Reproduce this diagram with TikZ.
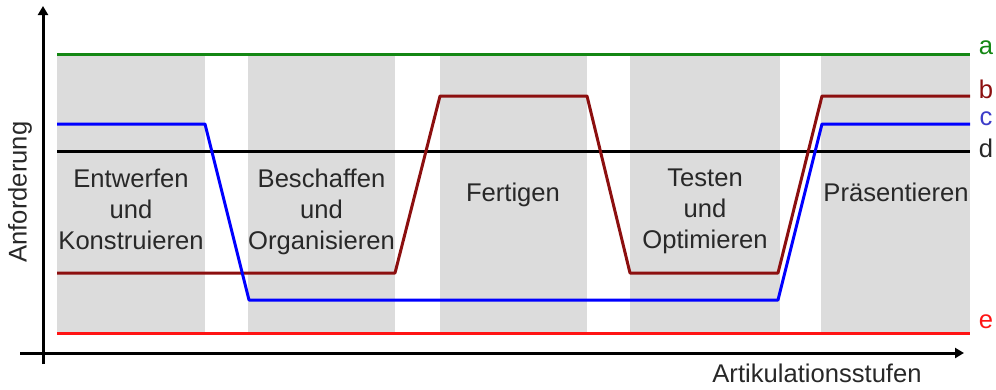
\documentclass[tikz,border=0pt]{standalone}
\usepackage{fontspec}
\setmainfont{Liberation Sans}
\usetikzlibrary{arrows.meta}
\definecolor{bandgray}{RGB}{220,220,220}
\definecolor{cgreen}{RGB}{20,135,20}
\definecolor{cdred}{RGB}{140,15,15}
\definecolor{cblue}{RGB}{0,0,255}
\definecolor{cred}{RGB}{255,20,20}
\definecolor{cdark}{RGB}{40,40,40}
\definecolor{labblue}{RGB}{60,60,200}
\begin{document}
\begin{tikzpicture}[x=1pt,y=-1pt,
  band/.style={fill=bandgray, draw=none, inner sep=0, minimum height=282pt, anchor=north west},
  curve/.style={line width=3pt, line join=round},
  axis/.style={line width=3pt, -{Triangle[length=9pt,width=10pt]}},
  txt/.style={font=\fontsize{25.6}{31}\selectfont, align=center, inner sep=0, text=cdark},
  lbl/.style={font=\fontsize{25.6}{31}\selectfont, inner sep=0}]
\useasboundingbox (0,0) rectangle (996,389);
% bands
\node[band, minimum width=148pt] (b1) at (57,53) {};
\node[band, minimum width=147pt] (b2) at (248,53) {};
\node[band, minimum width=147pt] (b3) at (440,53) {};
\node[band, minimum width=150pt] (b4) at (630,53) {};
\node[band, minimum width=149pt] (b5) at (821,53) {};
% texts
\node[txt, anchor=north] (t1) at (131,169) {Entwerfen\\und\\Konstruieren};
\node[txt, anchor=north] (t2) at (321.5,169) {Beschaffen\\und\\Organisieren};
\node[txt, anchor=north] (t3) at (513,183) {Fertigen};
\node[txt, anchor=north] (t4) at (705,169) {Testen\\und\\Optimieren};
\node[txt, anchor=north] (t5) at (896,183) {Präsentieren};
% curves
\draw[curve, cgreen] (57,54) -- (970,54);
\draw[curve, black] (57,151) -- (970,151);
\draw[curve, cred] (57,333) -- (970,333);
\draw[curve, cdred] (57,273) -- (395,273) -- (440,96) -- (587,96) -- (630,273) -- (778,273) -- (822,96) -- (970,96);
\draw[curve, cblue] (57,124) -- (205,124) -- (249,300) -- (778,300) -- (822,124) -- (970,124);
% line labels
\node[lbl, text=cgreen] (la) at (986,48) {a};
\node[lbl, text=cdred] (lb) at (986,89) {b};
\node[lbl, text=labblue] (lc) at (986,119) {c};
\node[lbl, text=cdark] (ld) at (986,148) {d};
\node[lbl, text=cred] (le) at (986,322) {e};
% axes
\coordinate (yb) at (43,364);
\coordinate (yt) at (43,6);
\coordinate (xl) at (20,353);
\coordinate (xr) at (964,353);
\draw[axis] (yb) -- (yt);
\draw[axis] (xl) -- (xr);
\node[lbl, text=cdark, rotate=90] (ylab) at (20,192) {Anforderung};
\node[lbl, text=cdark] (xlab) at (817,373) {Artikulationsstufen};
\end{tikzpicture}
\end{document}
